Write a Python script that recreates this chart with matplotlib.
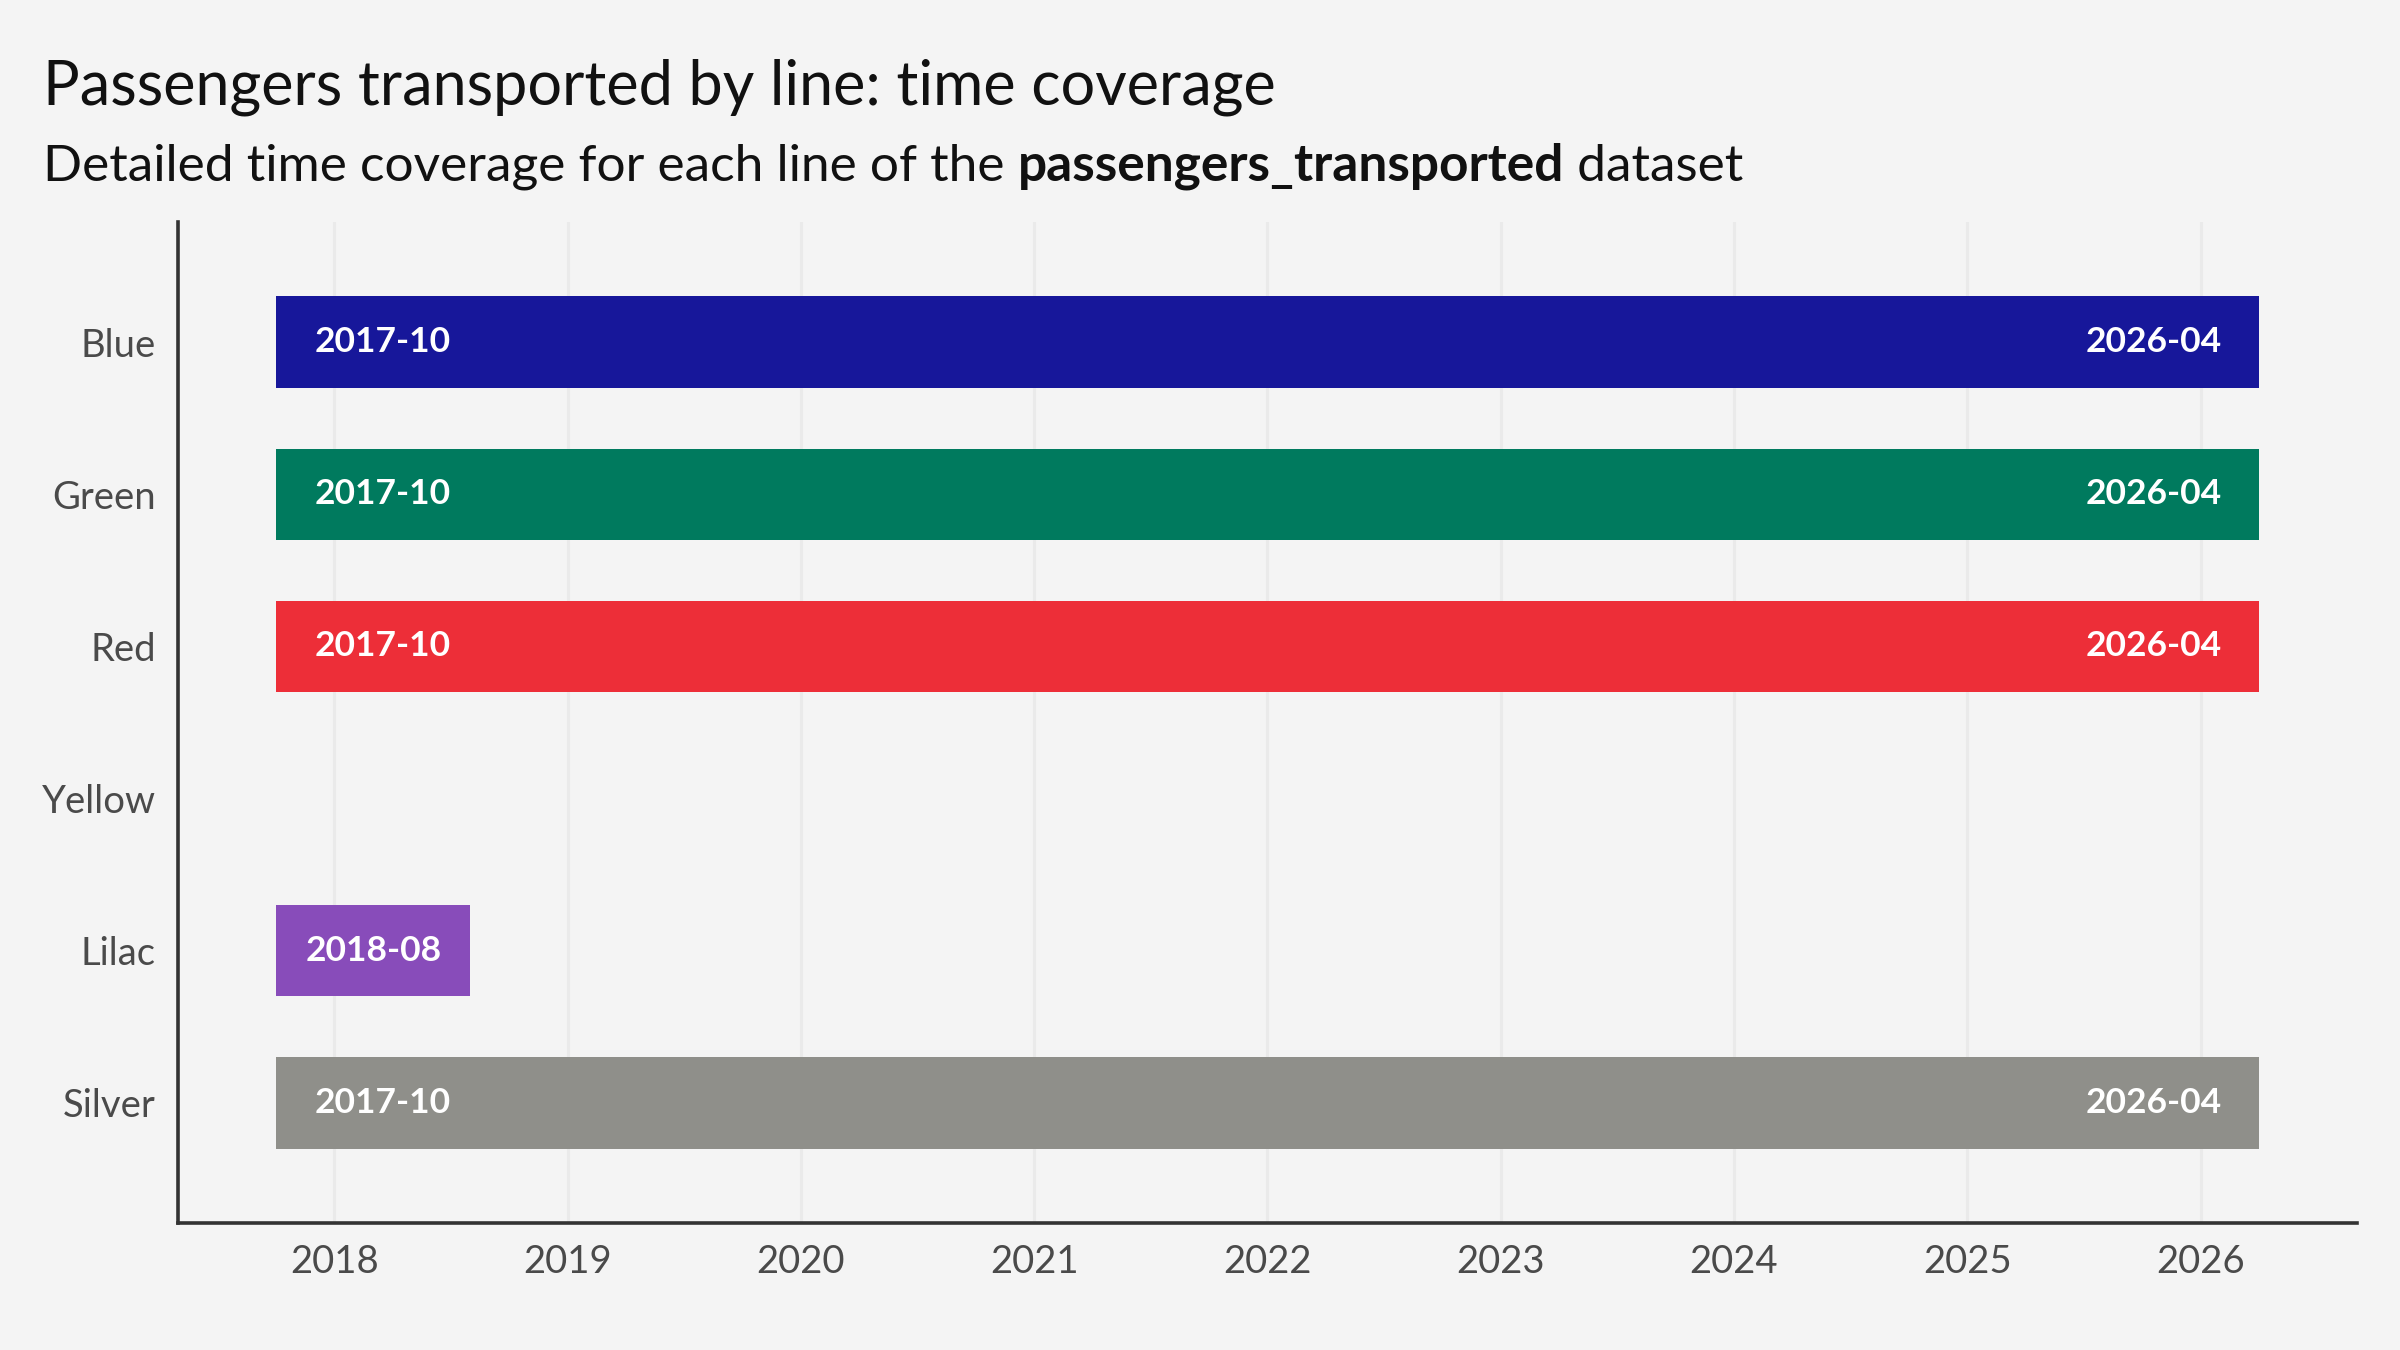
import matplotlib
matplotlib.use("Agg")
import matplotlib.pyplot as plt

# line names, top to bottom
lines = ["Blue", "Green", "Red", "Yellow", "Lilac", "Silver"]
colors = ["#17179A", "#007A5E", "#ED2E38", "#F2C500", "#884CBA", "#8F8F8A"]

# coverage as (year, month); None where the line has no data
starts = [(2017, 10), (2017, 10), (2017, 10), None, (2017, 10), (2017, 10)]
ends = [(2026, 4), (2026, 4), (2026, 4), None, (2018, 8), (2026, 4)]

years = list(range(2018, 2027))

BG = "#F4F4F4"
FONT = ["Lato", "DejaVu Sans"]
plt.rcParams["font.family"] = FONT


def to_year(ym):
    y, m = ym
    return y + (m - 1) / 12


fig = plt.figure(figsize=(24, 13.5), dpi=100, facecolor=BG)
ax = fig.add_axes([0.0742, 0.094, 0.9078, 0.7416], facecolor=BG)

for i, (name, c, s, e) in enumerate(zip(lines, colors, starts, ends)):
    if s is None:
        continue
    x0, x1 = to_year(s), to_year(e)
    ax.barh(i, x1 - x0, left=x0, height=0.6, color=c, zorder=3)
    s_lbl = "%d-%02d" % s
    e_lbl = "%d-%02d" % e
    if x1 - x0 > 2:
        ax.annotate(s_lbl, (x0, i), xytext=(28, 0), textcoords="offset points",
                    ha="left", va="center", color="white", fontsize=25.5,
                    fontweight="bold", zorder=4)
        ax.annotate(e_lbl, (x1, i), xytext=(-27, 0), textcoords="offset points",
                    ha="right", va="center", color="white", fontsize=25.5,
                    fontweight="bold", zorder=4)
    else:
        ax.text((x0 + x1) / 2, i, e_lbl, ha="center", va="center",
                color="white", fontsize=25.5, fontweight="bold", zorder=4)

ax.set_yticks(range(len(lines)))
ax.set_yticklabels(lines)
ax.set_ylim(len(lines) - 1 + 0.79, -0.79)
ax.set_xticks(years)
ax.set_xticklabels([str(y) for y in years])
ax.set_xlim(2017.33, 2026.67)

ax.grid(axis="x", color="#EAEAEA", linewidth=2.2, zorder=0)
ax.grid(axis="y", visible=False)
ax.tick_params(axis="both", length=0, labelsize=27.5, labelcolor="#4A4A4A")
ax.tick_params(axis="y", pad=16)
ax.tick_params(axis="x", pad=15)
for side in ["top", "right"]:
    ax.spines[side].set_visible(False)
for side in ["left", "bottom"]:
    ax.spines[side].set_color("#333333")
    ax.spines[side].set_linewidth(2.6)

# title and subtitle (with bold dataset name)
fig.text(43 / 2400, 1 - 104 / 1350, "Passengers transported by line: time coverage",
         fontsize=44, color="#111111", va="baseline", ha="left")

renderer = fig.canvas.get_renderer()
x = 43 / 2400
y_sub = 1 - 181 / 1350
parts = [("Detailed time coverage for each line of the ", "normal"),
         ("passengers_transported", "bold"),
         (" dataset", "normal")]
for txt, w in parts:
    t = fig.text(x, y_sub, txt, fontsize=37, fontweight=w, color="#111111",
                 va="baseline", ha="left")
    x += t.get_window_extent(renderer).width / fig.bbox.width

fig.savefig("out.png", dpi=100, facecolor=BG)
